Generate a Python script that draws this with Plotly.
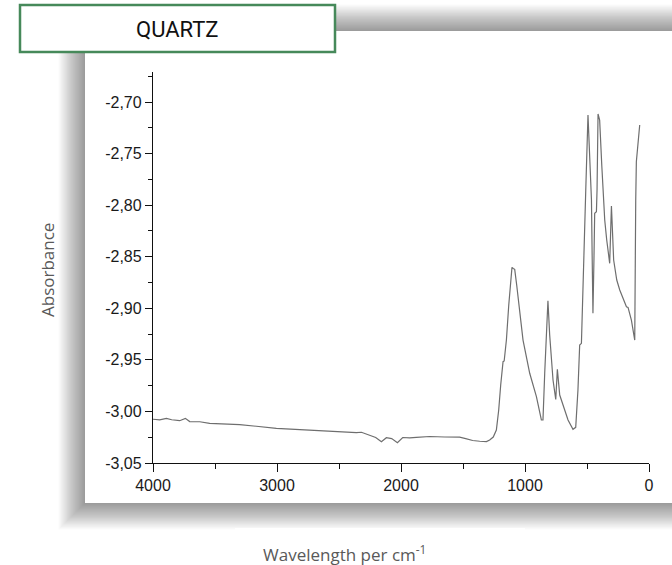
import plotly.graph_objects as go

# ---- data ----
wavenumber = [4000, 3946, 3892, 3849, 3785, 3739, 3704, 3623, 3543, 3301, 3005, 2551,
              2360, 2319, 2252, 2204, 2158, 2118, 2075, 2029, 1986, 1930, 1876, 1769,
              1648, 1527, 1478, 1422, 1365, 1311, 1285, 1256, 1231, 1212, 1196, 1177,
              1168, 1150, 1131, 1105, 1095, 1083, 1067, 1043, 1016, 962, 908, 868, 855,
              841, 829, 815, 801, 774, 752, 739, 720, 694, 653, 613, 591, 573, 559, 545,
              532, 510, 492, 478, 464, 458, 452, 444, 438, 424, 419, 411, 398, 381, 365,
              357, 341, 317, 303, 285, 260, 236, 182, 169, 142, 115, 107, 102, 75]
absorbance = [-3.0076, -3.0081, -3.0067, -3.0081, -3.0090, -3.0067, -3.0098, -3.0100,
              -3.0115, -3.0127, -3.0164, -3.0197, -3.0206, -3.0202, -3.0229, -3.0253,
              -3.0294, -3.0255, -3.0263, -3.0303, -3.0253, -3.0256, -3.0251, -3.0243,
              -3.0248, -3.0250, -3.0263, -3.0282, -3.0289, -3.0292, -3.0277, -3.0248,
              -3.0180, -2.9986, -2.9744, -2.9518, -2.9511, -2.9308, -2.8968, -2.8603,
              -2.8614, -2.8622, -2.8774, -2.9049, -2.9308, -2.9630, -2.9857, -3.0083,
              -3.0083, -2.9627, -2.9211, -2.8927, -2.9259, -2.9695, -2.9883, -2.9592,
              -2.9841, -2.9938, -3.0083, -3.0173, -3.0154, -2.9792, -2.9356, -2.9340,
              -2.8726, -2.7853, -2.7126, -2.7562, -2.7950, -2.8532, -2.9049, -2.8532,
              -2.8079, -2.8064, -2.7853, -2.7116, -2.7175, -2.7611, -2.7950, -2.8144,
              -2.8338, -2.8564, -2.8008, -2.8532, -2.8726, -2.8823, -2.8985, -2.8991,
              -2.9114, -2.9308, -2.7950, -2.7579, -2.7223]

y_tickvals = [-3.05, -3.00, -2.95, -2.90, -2.85, -2.80, -2.75, -2.70]
y_ticktext = ["-3,05", "-3,00", "-2,95", "-2,90", "-2,85", "-2,80", "-2,75", "-2,70"]
x_tickvals = [4000, 3000, 2000, 1000, 0]
x_ticktext = ["4000", "3000", "2000", "1000", "0"]

title_text = "QUARTZ"
y_title = "Absorbance"
x_title = "Wavelength per cm<sup>-1</sup>"

W, H = 672, 565


def px(x):
    return x / W


def py(y):
    return 1 - y / H


fig = go.Figure()
fig.add_trace(go.Scatter(x=wavenumber, y=absorbance, mode="lines",
                         line=dict(color="#6e6e6e", width=1.2), hoverinfo="skip",
                         showlegend=False))

shapes = []
# soft shadow around the white panel
panel = (85, 31, 690, 503)
N = 22
for i in range(N, 0, -1):
    s = i * 1.2
    shapes.append(dict(type="rect", xref="paper", yref="paper", layer="below",
                       x0=px(panel[0] - s), x1=px(panel[2] + s),
                       y0=py(panel[3] + s), y1=py(panel[1] - s),
                       line=dict(width=0), fillcolor="rgba(0,0,0,0.019)"))
# white panel
shapes.append(dict(type="rect", xref="paper", yref="paper", layer="below",
                   x0=px(panel[0]), x1=px(panel[2]), y0=py(panel[3]), y1=py(panel[1]),
                   line=dict(width=0), fillcolor="white"))
# white box under x title
shapes.append(dict(type="rect", xref="paper", yref="paper", layer="below",
                   x0=px(235), x1=px(525), y0=py(565), y1=py(528),
                   line=dict(width=0), fillcolor="white"))
# title box
shapes.append(dict(type="rect", xref="paper", yref="paper", layer="above",
                   x0=px(20), x1=px(335), y0=py(52), y1=py(5),
                   line=dict(color="#46895a", width=2.5), fillcolor="white"))

annotations = [
    dict(text=title_text, xref="paper", yref="paper", x=px(177.5), y=py(29),
         showarrow=False, xanchor="center", yanchor="middle",
         font=dict(family="Roboto, Liberation Sans Narrow, Arial", size=22,
                   color="#111111")),
    dict(text=y_title, xref="paper", yref="paper", x=px(47), y=py(270),
         showarrow=False, xanchor="center", yanchor="middle", textangle=-90,
         font=dict(family="Open Sans, Noto Sans, sans-serif", size=17, color="#595959")),
    dict(text=x_title, xref="paper", yref="paper", x=px(345), y=py(553),
         showarrow=False, xanchor="center", yanchor="middle",
         font=dict(family="Open Sans, Noto Sans, sans-serif", size=17, color="#595959")),
]

axis_font = dict(family="Liberation Sans, Arial, sans-serif", size=16, color="#1a1a1a")

fig.update_layout(
    width=W, height=H, autosize=False,
    margin=dict(l=0, r=0, t=0, b=0, autoexpand=False),
    paper_bgcolor="white", plot_bgcolor="rgba(0,0,0,0)",
    shapes=shapes, annotations=annotations, showlegend=False,
    xaxis=dict(domain=[px(153), px(649)], range=[4000, 0], autorange=False,
               automargin=False,
               showgrid=False, zeroline=False, showline=True, linecolor="#111111",
               linewidth=1.3, ticks="outside", ticklen=8, tickwidth=1.3,
               tickcolor="#111111", tickvals=x_tickvals, ticktext=x_ticktext,
               tickfont=axis_font, anchor="y",
               minor=dict(ticks="outside", ticklen=5, tickwidth=1.3, tickcolor="#111111",
                          tickmode="linear", tick0=500, dtick=1000, showgrid=False)),
    yaxis=dict(domain=[py(463), py(72)], range=[-3.05, -2.6709], autorange=False,
               automargin=False,
               showgrid=False, zeroline=False, showline=True, linecolor="#111111",
               linewidth=1.3, ticks="outside", ticklen=7, tickwidth=1.3,
               tickcolor="#111111", tickvals=y_tickvals, ticktext=y_ticktext,
               tickfont=axis_font, anchor="x",
               minor=dict(ticks="outside", ticklen=4, tickwidth=1.3, tickcolor="#111111",
                          tickmode="linear", tick0=-3.025, dtick=0.05, showgrid=False)),
)

fig.write_html("out.html")
